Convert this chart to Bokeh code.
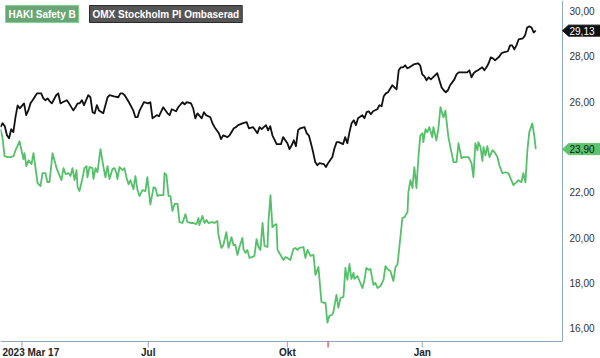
from bokeh.plotting import figure
from bokeh.models import Range1d, Label
from bokeh.core.properties import value
from bokeh.embed import file_html
from bokeh.resources import INLINE

# ---- data (trading-day index, price) ----
omx_day = [0, 1, 2, 3, 4, 5, 6, 7, 8, 9, 11, 12, 13, 14, 15, 17, 19, 20, 21, 22, 23, 24, 26, 27, 28, 29,
           31, 32, 34, 35, 36, 37, 38, 39, 41, 42, 43, 44, 45, 46, 48, 49, 50, 51, 53, 55, 56, 57, 58, 60,
           62, 63, 64, 65, 67, 69, 70, 71, 73, 74, 76, 78, 79, 80, 82, 83, 85, 86, 87, 89, 90, 91, 92, 94,
           95, 96, 98, 99, 100, 102, 103, 104, 106, 107, 109, 110, 111, 113, 115, 116, 118, 120, 121, 122,
           124, 125, 126, 127, 129, 131, 132, 134, 135, 136, 137, 138, 139, 140, 142, 143, 144, 145, 146,
           147, 148, 149, 151, 152, 153, 155, 156, 157, 158, 160, 161, 162, 163, 164, 165, 166, 167, 169,
           170, 171, 172, 173, 174, 176, 177, 178, 179, 180, 181, 183, 184, 185, 186, 187, 188, 189, 190,
           191, 193, 195, 196, 197, 198, 199, 200, 201, 202, 204, 205, 206, 207, 208, 209, 210, 212, 213,
           214, 216, 218, 219, 220, 221, 222, 223, 225, 226, 227, 228, 229, 230, 231, 233, 234, 235, 237,
           238, 239, 240, 241, 242, 244, 245, 246, 247, 248, 249, 250]
omx_val = [24.88, 25.04, 24.91, 24.51, 24.38, 24.78, 24.65, 25.31, 25.83, 25.70, 25.92, 25.40, 25.61,
           25.92, 26.06, 26.36, 26.36, 26.14, 26.06, 26.14, 26.01, 25.92, 26.28, 26.36, 25.92, 25.97,
           26.06, 25.92, 25.61, 25.75, 25.92, 25.92, 26.06, 25.84, 26.28, 26.19, 25.53, 25.48, 25.84,
           25.61, 25.48, 25.84, 26.19, 26.28, 26.23, 26.19, 26.36, 26.36, 26.28, 25.97, 25.61, 25.31,
           25.31, 25.61, 25.97, 25.92, 25.97, 25.26, 25.40, 25.35, 25.75, 25.48, 25.40, 25.66, 25.57,
           25.75, 25.97, 25.88, 25.97, 25.92, 25.70, 25.26, 25.48, 25.26, 25.53, 25.40, 25.31, 25.04,
           24.87, 24.60, 24.34, 24.51, 24.43, 24.51, 24.82, 24.87, 24.96, 25.04, 25.09, 24.82, 24.87,
           24.60, 24.87, 24.78, 24.96, 24.73, 24.91, 24.51, 24.12, 24.12, 24.43, 24.16, 23.90, 24.07,
           24.29, 24.03, 24.74, 24.82, 24.87, 24.60, 24.51, 24.16, 23.77, 23.33, 23.19, 23.28, 23.24,
           23.11, 23.28, 23.55, 23.94, 24.21, 24.21, 24.12, 24.43, 24.16, 24.65, 25.04, 25.18, 24.96,
           25.26, 25.40, 25.26, 25.53, 25.57, 25.44, 25.57, 25.66, 25.84, 25.79, 26.23, 26.36, 26.41,
           26.72, 26.63, 26.54, 27.38, 27.51, 27.51, 27.60, 27.47, 27.51, 27.64, 27.69, 27.60, 27.20,
           27.11, 26.94, 27.07, 26.98, 27.07, 27.25, 26.94, 26.63, 26.50, 26.41, 26.50, 26.72, 26.98,
           27.20, 27.29, 27.29, 27.29, 27.38, 27.07, 27.25, 27.33, 27.38, 27.51, 27.38, 27.51, 27.69,
           27.95, 27.91, 27.82, 27.99, 28.13, 28.17, 28.22, 28.48, 28.48, 28.30, 28.48, 28.74, 28.79,
           28.92, 29.27, 29.32, 29.27, 29.05, 29.13]

haki_day = [0.0, 0.9, 1.9, 3.3, 4.7, 6.1, 7.0, 7.9, 8.9, 9.8, 10.7, 11.2, 12.1, 13.1, 14.5, 15.4, 16.3,
            17.3, 18.7, 19.6, 21.0, 21.9, 22.9, 24.3, 25.2, 26.2, 27.1, 28.5, 29.4, 30.4, 31.8, 32.7,
            33.6, 34.6, 35.5, 36.0, 36.9, 38.3, 39.2, 40.2, 40.6, 41.6, 43.0, 43.4, 44.4, 45.3, 46.7,
            48.1, 49.0, 50.0, 50.9, 52.3, 53.2, 54.2, 54.6, 55.6, 57.0, 57.9, 58.8, 59.8, 60.7, 62.1,
            63.0, 64.0, 64.9, 66.3, 67.7, 68.6, 69.1, 70.0, 71.5, 72.4, 73.3, 74.3, 76.1, 76.6, 77.5,
            78.5, 79.4, 80.3, 81.3, 82.7, 83.6, 85.0, 86.4, 87.3, 89.2, 90.1, 91.5, 92.5, 92.9, 94.3,
            95.3, 96.2, 97.1, 99.0, 99.9, 101.3, 101.8, 103.2, 104.1, 105.5, 106.5, 107.9, 108.8, 109.7,
            110.7, 111.6, 113.0, 113.5, 114.4, 115.3, 116.3, 117.7, 118.6, 119.6, 120.5, 121.4, 122.4,
            123.3, 124.7, 125.2, 126.1, 127.0, 128.0, 128.9, 129.4, 130.8, 132.2, 133.1, 134.0, 135.4,
            136.8, 137.8, 138.7, 139.6, 141.5, 142.4, 143.4, 144.8, 146.2, 147.1, 148.0, 148.5, 149.9,
            150.8, 151.8, 152.7, 153.6, 155.0, 155.5, 156.9, 157.8, 158.8, 160.2, 161.1, 162.0, 163.0,
            163.9, 164.9, 165.3, 166.7, 167.7, 169.1, 170.0, 170.9, 171.9, 172.8, 174.2, 175.1, 176.1,
            177.5, 178.9, 179.8, 180.7, 182.1, 183.5, 184.5, 185.4, 186.3, 187.7, 188.7, 190.1, 190.5,
            191.5, 192.4, 193.3, 194.3, 195.2, 196.1, 197.1, 197.5, 198.5, 199.4, 200.3, 201.7, 202.2,
            203.6, 204.5, 205.5, 206.9, 207.8, 208.3, 209.2, 211.1, 211.6, 213.0, 213.9, 215.3, 216.2,
            217.6, 218.6, 220.0, 220.9, 221.8, 222.8, 223.2, 224.2, 225.1, 225.6, 226.5, 227.4, 228.4,
            229.8, 230.7, 232.1, 233.0, 234.4, 235.8, 237.2, 238.6, 239.6, 241.0, 241.9, 243.3, 244.2,
            245.2, 246.1, 247.0, 248.4, 249.4, 250.0]
haki_val = [24.78, 24.43, 23.59, 23.55, 23.55, 23.59, 23.85, 24.03, 24.25, 23.85, 23.46, 23.72, 23.15,
            23.41, 23.24, 23.72, 23.11, 22.40, 22.27, 22.84, 22.84, 22.45, 22.45, 23.72, 23.41, 23.06,
            22.84, 22.53, 23.06, 22.80, 22.84, 22.71, 23.06, 22.53, 22.97, 22.22, 22.05, 22.62, 23.06,
            23.15, 22.66, 23.11, 23.06, 22.58, 23.06, 22.88, 23.90, 23.11, 22.66, 23.15, 22.58, 23.02,
            23.06, 22.84, 22.58, 23.11, 22.97, 23.06, 22.66, 22.35, 22.53, 22.13, 22.71, 22.09, 21.83,
            22.09, 22.05, 22.66, 22.22, 21.45, 22.22, 22.18, 21.83, 21.87, 21.87, 22.84, 22.75, 21.83,
            21.83, 21.17, 21.48, 21.48, 20.68, 20.64, 21.03, 20.68, 20.64, 20.64, 20.59, 20.86, 20.55,
            20.95, 20.64, 20.77, 20.64, 20.68, 20.64, 20.73, 20.11, 19.54, 19.67, 20.24, 19.54, 20.02,
            19.67, 19.67, 19.23, 19.58, 19.98, 19.49, 19.32, 19.45, 19.10, 19.14, 19.19, 19.93, 19.58,
            19.45, 20.64, 19.63, 19.58, 20.77, 21.87, 20.46, 20.55, 20.59, 19.45, 19.23, 19.01, 19.14,
            19.10, 19.01, 19.49, 19.54, 19.45, 19.54, 19.58, 19.10, 19.45, 19.19, 19.23, 18.35, 18.57,
            18.70, 17.16, 17.12, 17.12, 16.24, 16.54, 16.59, 16.72, 17.47, 16.90, 17.33, 17.38, 18.66,
            18.13, 18.83, 18.17, 18.44, 18.17, 18.30, 18.08, 17.77, 18.13, 18.66, 18.57, 18.61, 17.91,
            18.00, 17.77, 17.86, 18.13, 18.74, 18.61, 18.52, 18.08, 18.70, 18.79, 19.58, 20.86, 20.90,
            21.12, 22.00, 22.53, 22.18, 23.11, 22.18, 23.55, 24.51, 24.60, 24.21, 24.78, 24.65, 24.87,
            24.43, 24.87, 24.29, 24.78, 25.75, 25.30, 25.60, 25.18, 24.43, 23.55, 23.33, 23.33, 24.16,
            23.50, 23.55, 23.55, 23.55, 23.28, 22.66, 24.16, 23.85, 24.21, 23.99, 23.37, 23.99, 23.63,
            24.03, 23.55, 23.85, 23.77, 23.55, 23.19, 22.84, 22.88, 22.84, 22.53, 22.31, 22.44, 22.53,
            22.44, 22.84, 22.44, 23.85, 24.65, 25.04, 24.43, 23.90]

series_names = ["HAKI Safety B", "OMX Stockholm PI Ombaserad"]
last_values = [23.90, 29.13]

x_tick_days = [10, 69, 134, 197]
x_tick_labels = ["2023 Mar 17", "Jul", "Okt", "Jan"]
marker_day = [153]
y_ticks = [16, 18, 20, 22, 26, 28, 30]

# ---- layout / styles ----
GREEN = "#55c06a"
BLACK = "#111111"
AXIS = "#8ea8bd"
FONT = "Liberation Sans"
W, H = 600, 358
AREA_W, AREA_H = 562, 341          # plotting area (pixels) inside the canvas
X_END = 262.5                      # trading days at the right edge of the plotting area
Y_LO, Y_TOP = 15.41, 30.46         # price range of the plotting area
DX = X_END / AREA_W                # days per pixel
DY = (Y_TOP - Y_LO) / AREA_H       # price per pixel

p = figure(width=W, height=H, output_backend="svg", toolbar_location=None,
           x_range=Range1d(0, W * DX), y_range=Range1d(Y_TOP - H * DY, Y_TOP),
           x_axis_location=None, y_axis_location=None, min_border=0,
           outline_line_color=None, background_fill_color="white", border_fill_color="white")
p.grid.visible = False

# axis lines (bottom + right)
p.segment(x0=[0, X_END], y0=[Y_LO, Y_LO], x1=[X_END, X_END], y1=[Y_LO, Y_TOP],
          line_color=AXIS, line_width=1)
# x ticks
p.segment(x0=x_tick_days, y0=[Y_LO] * len(x_tick_days), x1=x_tick_days,
          y1=[Y_LO - 6 * DY] * len(x_tick_days), line_color=AXIS, line_width=1)
# red marker tick
p.segment(x0=marker_day, y0=[Y_LO], x1=marker_day, y1=[Y_LO - 6 * DY],
          line_color="#e8403a", line_width=1.2)

# x tick labels
lab_y = Y_LO - 5 * DY
p.text(x=[2 * DX], y=[lab_y], text=[x_tick_labels[0]], text_align="left", text_baseline="top",
       text_font=value(FONT), text_font_style="bold", text_font_size="10px", text_color="#222222")
p.text(x=x_tick_days[1:], y=[lab_y] * (len(x_tick_days) - 1), text=x_tick_labels[1:],
       text_align="center", text_baseline="top", text_font=value(FONT), text_font_style="bold",
       text_font_size="10px", text_color="#222222")

# y tick labels on the right
p.text(x=[X_END + 7 * DX] * len(y_ticks), y=y_ticks,
       text=[f"{t:.2f}".replace(".", ",") for t in y_ticks],
       text_align="left", text_baseline="middle", text_font=value(FONT),
       text_font_size="10px", text_color="#333333")

# series lines
p.line(haki_day, haki_val, line_color=GREEN, line_width=1.8, line_join="round")
p.line(omx_day, omx_val, line_color=BLACK, line_width=1.8, line_join="round")

# last-value tags
tag_fill = ["#5cc46e", "#111111"]
tag_text = ["#111111", "#ffffff"]
hh = 5.5 * DY
tag_xs = [[X_END, X_END + 6 * DX, X_END + 40 * DX, X_END + 40 * DX, X_END + 6 * DX] for _ in last_values]
tag_ys = [[v, v + hh, v + hh, v - hh, v - hh] for v in last_values]
p.patches(xs=tag_xs, ys=tag_ys, fill_color=tag_fill, line_color=tag_fill)
p.text(x=[X_END + 7 * DX] * len(last_values), y=last_values,
       text=[f"{v:.2f}".replace(".", ",") for v in last_values],
       text_align="left", text_baseline="middle", text_font=value(FONT), text_font_size="10px",
       text_color=tag_text)

# legend boxes
legend_styles = [("#68a775", "#7fd38e", 5), ("#555555", "#2a2a2a", 89)]
for name, (fill, border, xoff) in zip(series_names, legend_styles):
    p.add_layout(Label(x=0, y=Y_TOP, x_offset=xoff, y_offset=-5, text=name, text_baseline="top",
                       text_align="left", text_font=FONT, text_font_style="bold",
                       text_font_size="10px", text_color="white", padding=3,
                       background_fill_color=fill, border_line_color=border))

open("out.html", "w").write(file_html(p, INLINE))
